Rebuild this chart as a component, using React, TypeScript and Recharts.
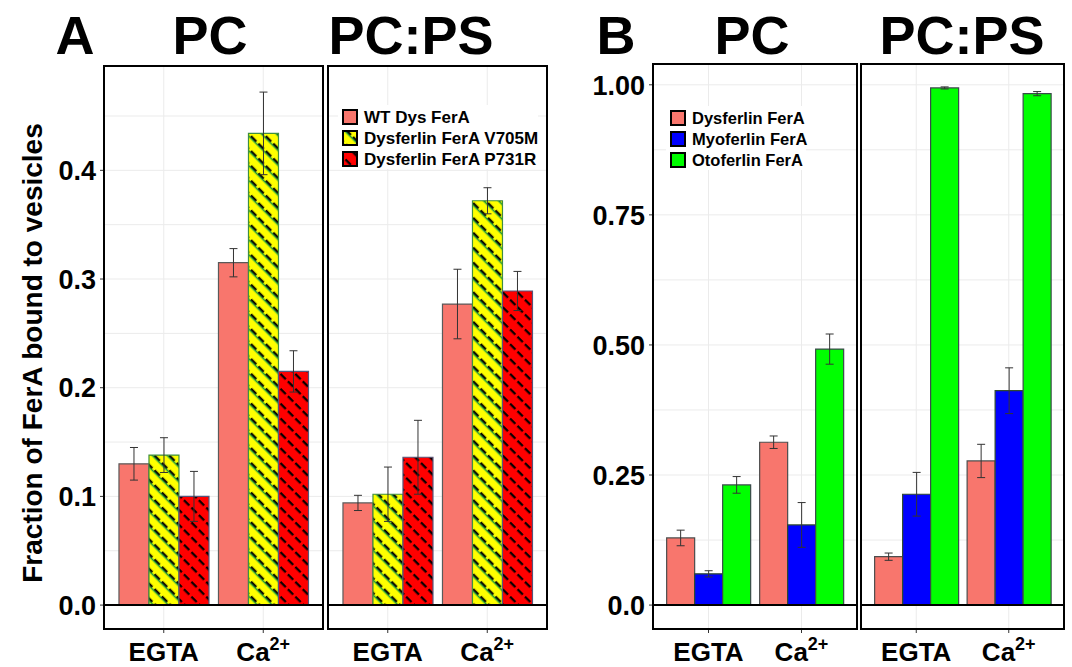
import React from "react";
import { BarChart, Bar, XAxis, YAxis, CartesianGrid, ErrorBar, ReferenceLine } from "recharts";

const conditions = ["EGTA", "Ca2+"];

// panel A - dysferlin FerA variants
const wtPC = [0.13, 0.315];
const wtPCErr = [0.015, 0.013];
const v705mPC = [0.138, 0.434];
const v705mPCErr = [0.016, 0.038];
const p731rPC = [0.1, 0.215];
const p731rPCErr = [0.023, 0.019];
const wtPS = [0.094, 0.277];
const wtPSErr = [0.007, 0.032];
const v705mPS = [0.102, 0.372];
const v705mPSErr = [0.025, 0.012];
const p731rPS = [0.136, 0.289];
const p731rPSErr = [0.034, 0.018];

// panel B - ferlin family FerA domains
const dysPC = [0.129, 0.313];
const dysPCErr = [0.015, 0.012];
const myoPC = [0.06, 0.154];
const myoPCErr = [0.006, 0.043];
const otoPC = [0.231, 0.492];
const otoPCErr = [0.016, 0.029];
const dysPS = [0.093, 0.277];
const dysPSErr = [0.007, 0.032];
const myoPS = [0.213, 0.412];
const myoPSErr = [0.042, 0.044];
const otoPS = [0.994, 0.983];
const otoPSErr = [0.002, 0.004];

const gridTicksA = [0, 0.05, 0.1, 0.15, 0.2, 0.25, 0.3, 0.35, 0.4, 0.45];
const labelTicksA = [0, 0.1, 0.2, 0.3, 0.4];
const gridTicksB = [0, 0.125, 0.25, 0.375, 0.5, 0.625, 0.75, 0.875, 1];
const labelTicksB = [0, 0.25, 0.5, 0.75, 1];

const FONT = '"Liberation Sans", Arial, Helvetica, sans-serif';

type Series = {
  key: string;
  name: string;
  fill: string;
  stroke: string;
  values: number[];
  errors: number[];
};

const seriesA = (pc: boolean): Series[] => [
  { key: "wt", name: "WT Dys FerA", fill: "#F8766D", stroke: "#5a5a5a", values: pc ? wtPC : wtPS, errors: pc ? wtPCErr : wtPSErr },
  { key: "v705m", name: "Dysferlin FerA V705M", fill: "url(#hatchYellow)", stroke: "#3f8f3f", values: pc ? v705mPC : v705mPS, errors: pc ? v705mPCErr : v705mPSErr },
  { key: "p731r", name: "Dysferlin FerA P731R", fill: "url(#hatchRed)", stroke: "#55557a", values: pc ? p731rPC : p731rPS, errors: pc ? p731rPCErr : p731rPSErr },
];

const seriesB = (pc: boolean): Series[] => [
  { key: "dys", name: "Dysferlin FerA", fill: "#F8766D", stroke: "#4d4d4d", values: pc ? dysPC : dysPS, errors: pc ? dysPCErr : dysPSErr },
  { key: "myo", name: "Myoferlin FerA", fill: "#0000FF", stroke: "#2f4a2f", values: pc ? myoPC : myoPS, errors: pc ? myoPCErr : myoPSErr },
  { key: "oto", name: "Otoferlin FerA", fill: "#00FF00", stroke: "#3a4a4a", values: pc ? otoPC : otoPS, errors: pc ? otoPCErr : otoPSErr },
];

function buildRows(series: Series[]) {
  return conditions.map((cond, i) => {
    const row: Record<string, any> = { cond };
    series.forEach((s) => {
      row[s.key] = s.values[i];
      row[s.key + "Err"] = s.errors[i];
    });
    return row;
  });
}

function XTick({ x, y, payload }: any) {
  const v = payload.value;
  return (
    <text x={x} y={y + 26} textAnchor="middle" fontFamily={FONT} fontWeight="bold" fontSize={26} fill="#000">
      {v === "Ca2+" ? (
        <>
          <tspan>Ca</tspan>
          <tspan dy={-11} fontSize={18}>2+</tspan>
        </>
      ) : (
        v
      )}
    </text>
  );
}

type FacetProps = {
  left: number;
  top: number;
  width: number;
  height: number;
  axisWidth: number;
  domain: [number, number];
  gridTicks: number[];
  labelTicks: number[];
  fmt: (v: number) => string;
  series: Series[];
  pad: number;
};

const X_AXIS_H = 38;

function Facet(p: FacetProps) {
  const rows = buildRows(p.series);
  const yTick = (t: any) => {
    if (!p.labelTicks.includes(t.payload.value)) return <g />;
    return (
      <g>
        <line x1={t.x + 4} x2={t.x + 8} y1={t.y} y2={t.y} stroke="#333" strokeWidth={1} />
        <text x={t.x} y={t.y} dy="0.36em" textAnchor="end" fontFamily={FONT} fontWeight="bold" fontSize={27} fill="#000">
          {p.fmt(t.payload.value)}
        </text>
      </g>
    );
  };
  return (
    <div style={{ position: "absolute", left: p.left, top: p.top }}>
      <BarChart
        width={p.width}
        height={p.height}
        data={rows}
        margin={{ top: 0, right: 0, bottom: 0, left: 0 }}
        barCategoryGap="5%"
        barGap={0}
      >
        <CartesianGrid stroke="#EBEBEB" strokeWidth={1} />
        <XAxis
          dataKey="cond"
          type="category"
          interval={0}
          padding={{ left: p.pad, right: p.pad }}
          height={X_AXIS_H}
          axisLine={false}
          tickLine={{ stroke: "#333" }}
          tickSize={4}
          tickMargin={2}
          tick={<XTick />}
        />
        <YAxis
          type="number"
          domain={p.domain}
          allowDataOverflow
          ticks={p.gridTicks}
          interval={0}
          width={p.axisWidth || 0}
          hide={!p.axisWidth}
          axisLine={false}
          tickLine={false}
          tickSize={4}
          tickMargin={4}
          tick={yTick}
        />
        {p.series.map((s) => (
          <Bar key={s.key} dataKey={s.key} name={s.name} fill={s.fill} stroke={s.stroke} strokeWidth={1.2} isAnimationActive={false}>
            <ErrorBar dataKey={s.key + "Err"} direction="y" width={4} stroke="#333" strokeWidth={1} />
          </Bar>
        ))}
        <ReferenceLine y={0} stroke="#000" strokeWidth={2} />
      </BarChart>
    </div>
  );
}

function Frame({ x, y, w, h }: { x: number; y: number; w: number; h: number }) {
  return (
    <div
      style={{
        position: "absolute",
        left: x - 1,
        top: y - 1,
        width: w + 2,
        height: h + 2,
        border: "2px solid #000",
        boxSizing: "border-box",
        pointerEvents: "none",
      }}
    />
  );
}

function LegendBox({ x, y, series, fontSize, bgW }: { x: number; y: number; series: Series[]; fontSize: number; bgW: number }) {
  return (
    <g>
      <rect x={x - 5} y={y - 12} width={bgW} height={64} fill="#fff" />
      {series.map((s, i) => (
        <g key={s.key}>
          <rect x={x} y={y + i * 21 - 7} width={14} height={14} fill={s.fill} stroke="#000" strokeWidth={2} />
          <text x={x + 21} y={y + i * 21} dy="0.36em" fontFamily={FONT} fontWeight="bold" fontSize={fontSize} fill="#000">
            {s.name}
          </text>
        </g>
      ))}
    </g>
  );
}

const fmtA = (v: number) => v.toFixed(1);
const fmtB = (v: number) => (v === 0 ? "0.0" : v.toFixed(2));

export default function App() {
  const domA: [number, number] = [-0.022, 0.496];
  const domB: [number, number] = [-0.046, 1.04];
  const title = { fontFamily: FONT, fontWeight: "bold", fontSize: 54, fill: "#000", textAnchor: "middle" } as const;
  return (
    <div style={{ position: "absolute", left: 0, top: 0, width: 1072, height: 667, background: "#fff", overflow: "hidden" }}>
      <Facet left={39} top={66} width={284} height={563 + X_AXIS_H} axisWidth={65} domain={domA}
        gridTicks={gridTicksA} labelTicks={labelTicksA} fmt={fmtA} series={seriesA(true)} pad={10} />
      <Facet left={328} top={66} width={219} height={563 + X_AXIS_H} axisWidth={0} domain={domA}
        gridTicks={gridTicksA} labelTicks={labelTicksA} fmt={fmtA} series={seriesA(false)} pad={10} />
      <Facet left={580} top={64} width={277} height={565 + X_AXIS_H} axisWidth={73} domain={domB}
        gridTicks={gridTicksB} labelTicks={labelTicksB} fmt={fmtB} series={seriesB(true)} pad={9} />
      <Facet left={861} top={64} width={203} height={565 + X_AXIS_H} axisWidth={0} domain={domB}
        gridTicks={gridTicksB} labelTicks={labelTicksB} fmt={fmtB} series={seriesB(false)} pad={9} />

      <Frame x={104} y={66} w={219} h={563} />
      <Frame x={328} y={66} w={219} h={563} />
      <Frame x={653} y={64} w={204} h={565} />
      <Frame x={861} y={64} w={203} h={565} />

      <svg width={1072} height={667} style={{ position: "absolute", left: 0, top: 0, pointerEvents: "none" }}>
        <defs>
          <pattern id="hatchYellow" patternUnits="userSpaceOnUse" width={10.5} height={10.5} patternTransform="rotate(45)">
            <rect width={10.5} height={10.5} fill="#FFFF00" />
            <line x1={0} y1={6.2} x2={10.5} y2={6.2} stroke="#1f9a3a" strokeWidth={1.6} />
            <line x1={0} y1={4.6} x2={10.5} y2={4.6} stroke="#000" strokeWidth={2} strokeDasharray="7.5 3" />
          </pattern>
          <pattern id="hatchRed" patternUnits="userSpaceOnUse" width={10.5} height={10.5} patternTransform="rotate(45)">
            <rect width={10.5} height={10.5} fill="#FF0000" />
            <line x1={0} y1={5} x2={10.5} y2={5} stroke="#000" strokeWidth={2.2} strokeDasharray="7.5 3" />
          </pattern>
        </defs>
        <text x={75} y={54} {...title}>A</text>
        <text x={210} y={54} {...title}>PC</text>
        <text x={411} y={54} {...title}>PC:PS</text>
        <text x={616} y={54} {...title}>B</text>
        <text x={752} y={54} {...title}>PC</text>
        <text x={962} y={54} {...title}>PC:PS</text>
        <text
          transform="translate(32,353) rotate(-90)"
          textAnchor="middle"
          dy="0.36em"
          fontFamily={FONT}
          fontWeight="bold"
          fontSize={28}
          fill="#000"
        >
          Fraction of FerA bound to vesicles
        </text>
        <LegendBox x={343} y={117} series={seriesA(true)} fontSize={17} bgW={200} />
        <LegendBox x={671} y={118} series={seriesB(true)} fontSize={16.5} bgW={140} />
      </svg>
    </div>
  );
}
